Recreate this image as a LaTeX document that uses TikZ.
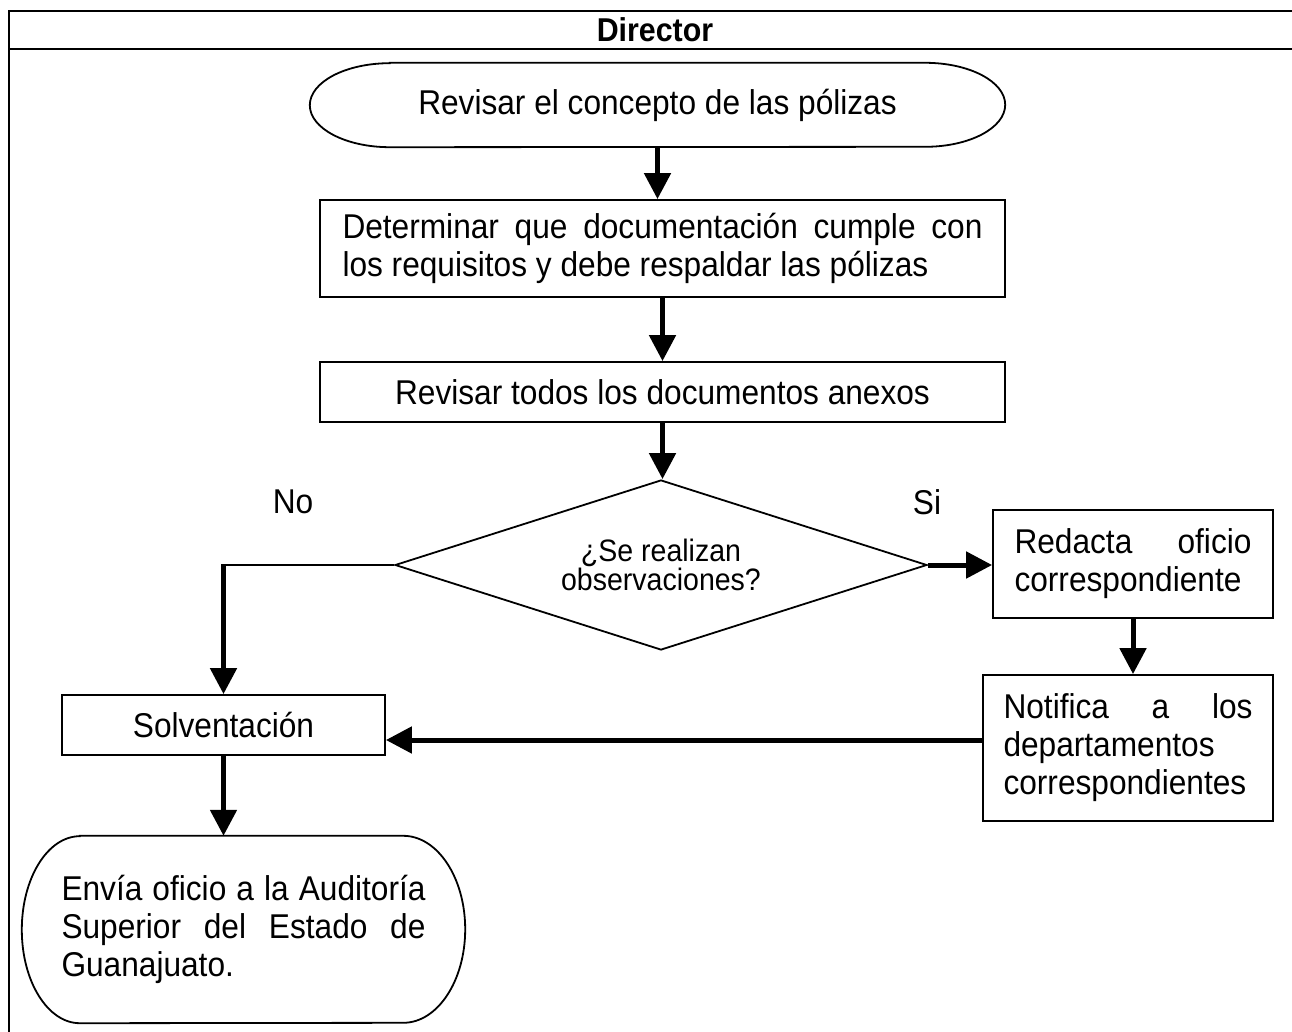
\documentclass[tikz,border=0pt]{standalone}
\usepackage{fontspec}
\setmainfont{Liberation Sans}[FakeStretch=0.92]
\usetikzlibrary{arrows.meta,shapes.geometric}
\newcommand\bigtxt{\fontsize{34.4}{38}\selectfont}
\newcommand\smalltxt{\fontsize{31}{29}\selectfont}
\begin{document}
\begin{tikzpicture}[x=1pt,y=-1pt,
  frame/.style={line width=2.4pt},
  outline/.style={draw,line width=1.8pt},
  box/.style={outline,rectangle,inner sep=0pt,font=\bigtxt},
  plain/.style={rectangle,inner sep=0pt,font=\bigtxt},
  flow/.style={line width=5pt,-{Triangle[length=26pt,width=26pt]}},
  thinline/.style={line width=1.8pt},
  lbl/.style={font=\bigtxt,inner sep=0pt}]
\useasboundingbox (0,0) rectangle (1292,1032);
% frame
\draw[frame] (1292,11) -- (9,11) -- (9,1032);
\draw[frame] (9,49) -- (1292,49);
\node[font=\fontsize{33}{36}\selectfont\bfseries,inner sep=0pt] (title) at (655,30) {Director};

% start terminator
\node[plain,minimum width=695pt,minimum height=84pt] (start) at (657.5,105) {Revisar el concepto de las pólizas};
\draw[outline] ([xshift=80pt]start.north west) -- ([xshift=-80pt]start.north east)
  arc[start angle=90,end angle=-90,x radius=80pt,y radius=42pt]
  -- ([xshift=80pt]start.south west)
  arc[start angle=270,end angle=90,x radius=80pt,y radius=42pt] -- cycle;

% boxes
\node[box,minimum width=685pt,minimum height=97pt] (det) at (662.5,248.5)
  {\begin{minipage}{640pt}\bigtxt\hyphenpenalty=10000\tolerance=10000
   Determinar que documentación cumple con los requisitos y debe respaldar las pólizas\end{minipage}};
\node[box,minimum width=685pt,minimum height=60pt] (rev) at (662.5,392) {Revisar todos los documentos anexos};

% decision
\node[draw,line width=1.8pt,diamond,aspect=3.13,minimum width=532pt,minimum height=170pt,inner sep=0pt,font=\smalltxt,align=center] (dia) at (661,565) {¿Se realizan\\observaciones?};
\node[lbl] (no) at (293,502) {No};
\node[lbl] (si) at (927,502) {Si};

% right branch
\node[box,minimum width=280pt,minimum height=108pt] (red) at (1133,564)
  {\begin{minipage}{237pt}\bigtxt\hyphenpenalty=10000\tolerance=10000
   Redacta oficio correspondiente\end{minipage}};
\node[box,minimum width=290pt,minimum height=146pt] (notif) at (1128,748)
  {\begin{minipage}{249pt}\bigtxt\hyphenpenalty=10000\tolerance=10000
   Notifica a los departamentos correspondientes\end{minipage}};

% left branch
\node[box,minimum width=323pt,minimum height=60pt] (solv) at (223.5,725) {Solventación};
\node[plain,minimum width=443pt,minimum height=187pt] (endn) at (243.5,929.5)
  {\begin{minipage}{364pt}\bigtxt\hyphenpenalty=10000\tolerance=10000
   Envía oficio a la Auditoría Superior del Estado de Guanajuato.\end{minipage}};
\draw[outline] ([xshift=58pt]endn.north west) -- ([xshift=-62pt]endn.north east)
  arc[start angle=90,end angle=-90,x radius=62pt,y radius=93.5pt]
  -- ([xshift=58pt]endn.south west)
  arc[start angle=270,end angle=90,x radius=58pt,y radius=93.5pt] -- cycle;

% connectors
\draw[flow] (start.south) -- (start.south |- det.north);
\draw[flow] (det.south) -- (rev.north);
\draw[flow] (rev.south) -- (rev.south |- dia.north);
\coordinate (cornerL) at (dia.west -| solv.north);
\draw[thinline] (dia.west) -- (cornerL);
\draw[flow] ([yshift=0.9pt]cornerL) -- (solv.north);
\draw[flow] (dia.east) -- (red.west |- dia.east);
\draw[flow] (red.south) -- (red.south |- notif.north);
\draw[flow] ([yshift=8pt]notif.west) -- ([yshift=8pt]notif.west -| solv.east);
\draw[flow] (solv.south) -- (solv.south |- endn.north);
\end{tikzpicture}
\end{document}
